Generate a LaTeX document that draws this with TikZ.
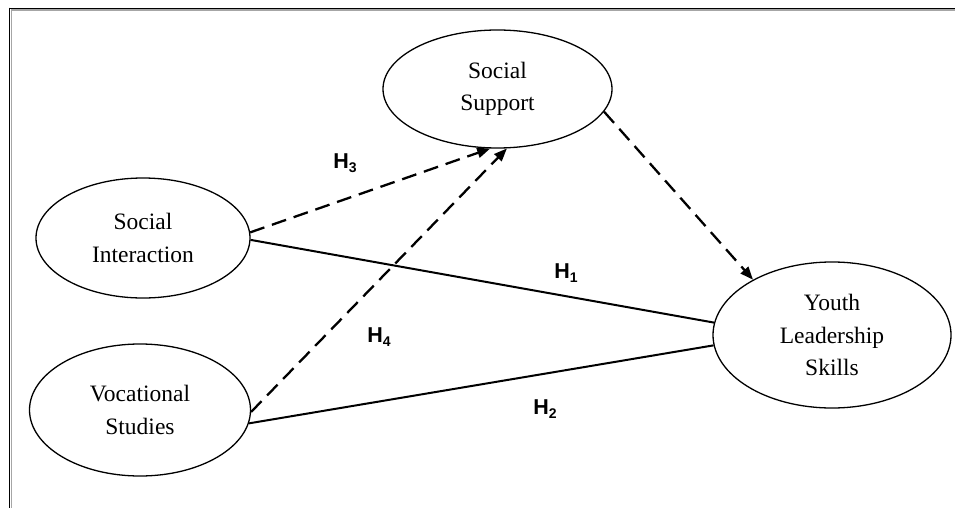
\documentclass[tikz,border=0pt]{standalone}
\usepackage{fontspec}
\setmainfont{Liberation Serif}
\setsansfont{Liberation Sans}
\usetikzlibrary{shapes.geometric,arrows.meta}
\newcommand{\hyp}[1]{H\raisebox{-0.3ex}{\fontsize{14}{14}\selectfont #1}}
\begin{document}
\begin{tikzpicture}[x=1pt,y=-1pt,
  latent/.style={ellipse,draw,line width=1.3pt,inner sep=0pt,align=center,
    font=\fontsize{23.5}{32.5}\selectfont},
  solidpath/.style={line width=2pt},
  dashpath/.style={line width=2.3pt,dash pattern=on 15pt off 8pt,
    -{Triangle[length=13pt,width=10pt]}},
  hlab/.style={font=\sffamily\bfseries\fontsize{21.5}{21.5}\selectfont,inner sep=0pt}]
\useasboundingbox (0,0) rectangle (955,508);
% frame
\draw[black!35,line width=1.4pt] (11.2,10.2) -- (955,10.2);
\draw[black!35,line width=1.4pt] (11.2,10.2) -- (11.2,508);
\draw[black,line width=1.6pt] (9.5,8.5) -- (955,8.5);
\draw[black,line width=1.6pt] (9.5,7.7) -- (9.5,508);
% latent variables
\node[latent,minimum width=229pt,minimum height=118pt] (ss) at (497.5,89) {Social\\Support};
\node[latent,minimum width=214pt,minimum height=120pt] (si) at (143,238) {Social\\Interaction};
\node[latent,minimum width=221pt,minimum height=132pt] (vs) at (140,410) {Vocational\\Studies};
\node[latent,minimum width=238pt,minimum height=146pt] (yl) at (832,335) {Youth\\Leadership\\Skills};
% paths
\draw[dashpath] (si.3) -- (ss.-97);
\draw[dashpath] (vs.-1) -- (ss.-81);
\draw[dashpath] (ss.-12) -- (yl.145);
\draw[solidpath] (si.-1) -- (yl.174);
\draw[solidpath] (vs.-7) -- (yl.185);
% labels
\node[hlab] (h3) at (345,163) {\hyp{3}};
\node[hlab] (h1) at (566,273) {\hyp{1}};
\node[hlab] (h4) at (379,337) {\hyp{4}};
\node[hlab] (h2) at (545,409) {\hyp{2}};
\end{tikzpicture}
\end{document}
